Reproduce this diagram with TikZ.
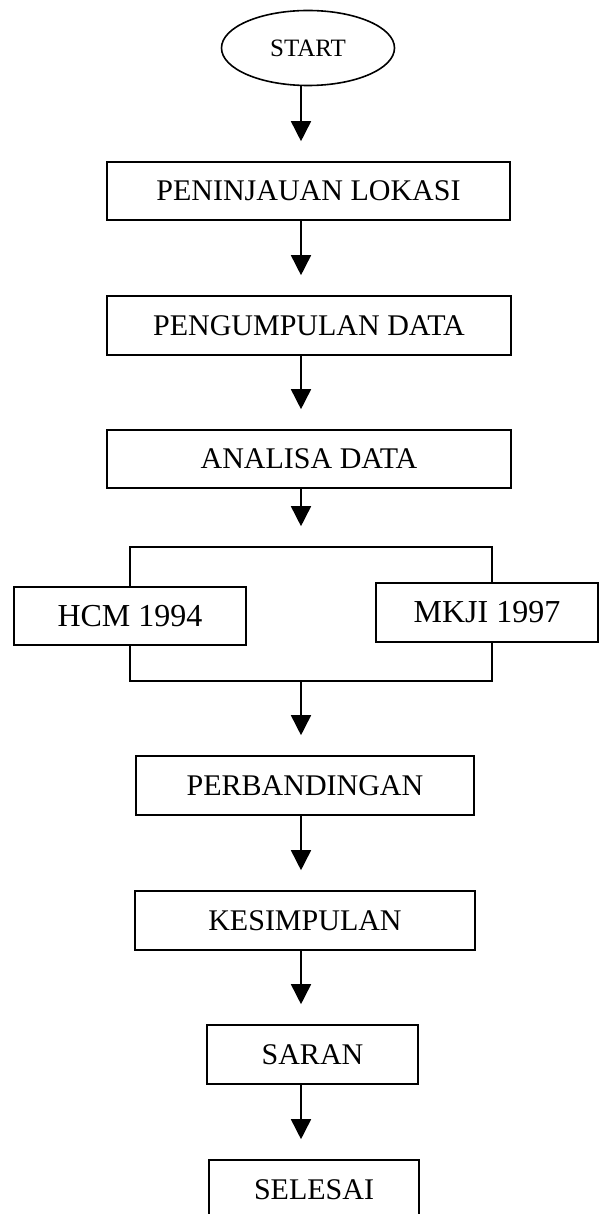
\documentclass[tikz,border=0pt]{standalone}
\usepackage{fontspec}
\setmainfont{Liberation Serif}
\usetikzlibrary{arrows.meta,calc,shapes.geometric}
\begin{document}
\begin{tikzpicture}[x=1pt,y=-1pt,
  every node/.style={font=\fontsize{30}{34}\selectfont, inner sep=0pt},
  box/.style={draw, line width=1.6pt, rectangle, fill=white},
  term/.style={draw, line width=1.6pt, ellipse, font=\fontsize{25}{28}\selectfont},
  frame/.style={draw, line width=1.6pt, rectangle},
  method/.style={box, font=\fontsize{32}{36}\selectfont},
  arr/.style={line width=1.6pt, -{Triangle[width=20pt,length=20pt]}}]
\useasboundingbox (0,0) rectangle (600,1214);
% column of the connectors
\coordinate (ax) at (301,0);

% main flow
\node[term, minimum width=173pt, minimum height=75pt] (start) at (308,48) {START};
\node[box, minimum width=403pt, minimum height=58pt] (lok) at (308.5,191) {PENINJAUAN LOKASI};
\node[box, minimum width=404pt, minimum height=59pt] (data) at (309,325.5) {PENGUMPULAN DATA};
\node[box, minimum width=404pt, minimum height=58pt] (anal) at (309,459) {ANALISA DATA};

% parallel methods
\node[frame, minimum width=362pt, minimum height=134pt] (par) at (311,614) {};
\node[method, minimum width=232pt, minimum height=58pt] (hcm) at (130,616) {HCM 1994};
\node[method, minimum width=222pt, minimum height=59pt] (mkji) at (487,612.5) {MKJI 1997};

\node[box, minimum width=338pt, minimum height=59pt] (banding) at (305,785.5) {PERBANDINGAN};
\node[box, minimum width=340pt, minimum height=59pt] (simpul) at (305,920.5) {KESIMPULAN};
\node[box, minimum width=211pt, minimum height=59pt] (saran) at (312.5,1054.5) {SARAN};
\node[box, minimum width=210pt, minimum height=60pt] (selesai) at (314,1190) {SELESAI};

% connectors
\draw[arr] (start.south -| ax) -- ($(lok.north -| ax)+(0,-20)$);
\draw[arr] (lok.south -| ax) -- ($(data.north -| ax)+(0,-20)$);
\draw[arr] (data.south -| ax) -- ($(anal.north -| ax)+(0,-20)$);
\draw[arr] (anal.south -| ax) -- ($(par.north -| ax)+(0,-20)$);
\draw[arr] (par.south -| ax) -- ($(banding.north -| ax)+(0,-20)$);
\draw[arr] (banding.south -| ax) -- ($(simpul.north -| ax)+(0,-20)$);
\draw[arr] (simpul.south -| ax) -- ($(saran.north -| ax)+(0,-20)$);
\draw[arr] (saran.south -| ax) -- ($(selesai.north -| ax)+(0,-20)$);
\end{tikzpicture}
\end{document}
